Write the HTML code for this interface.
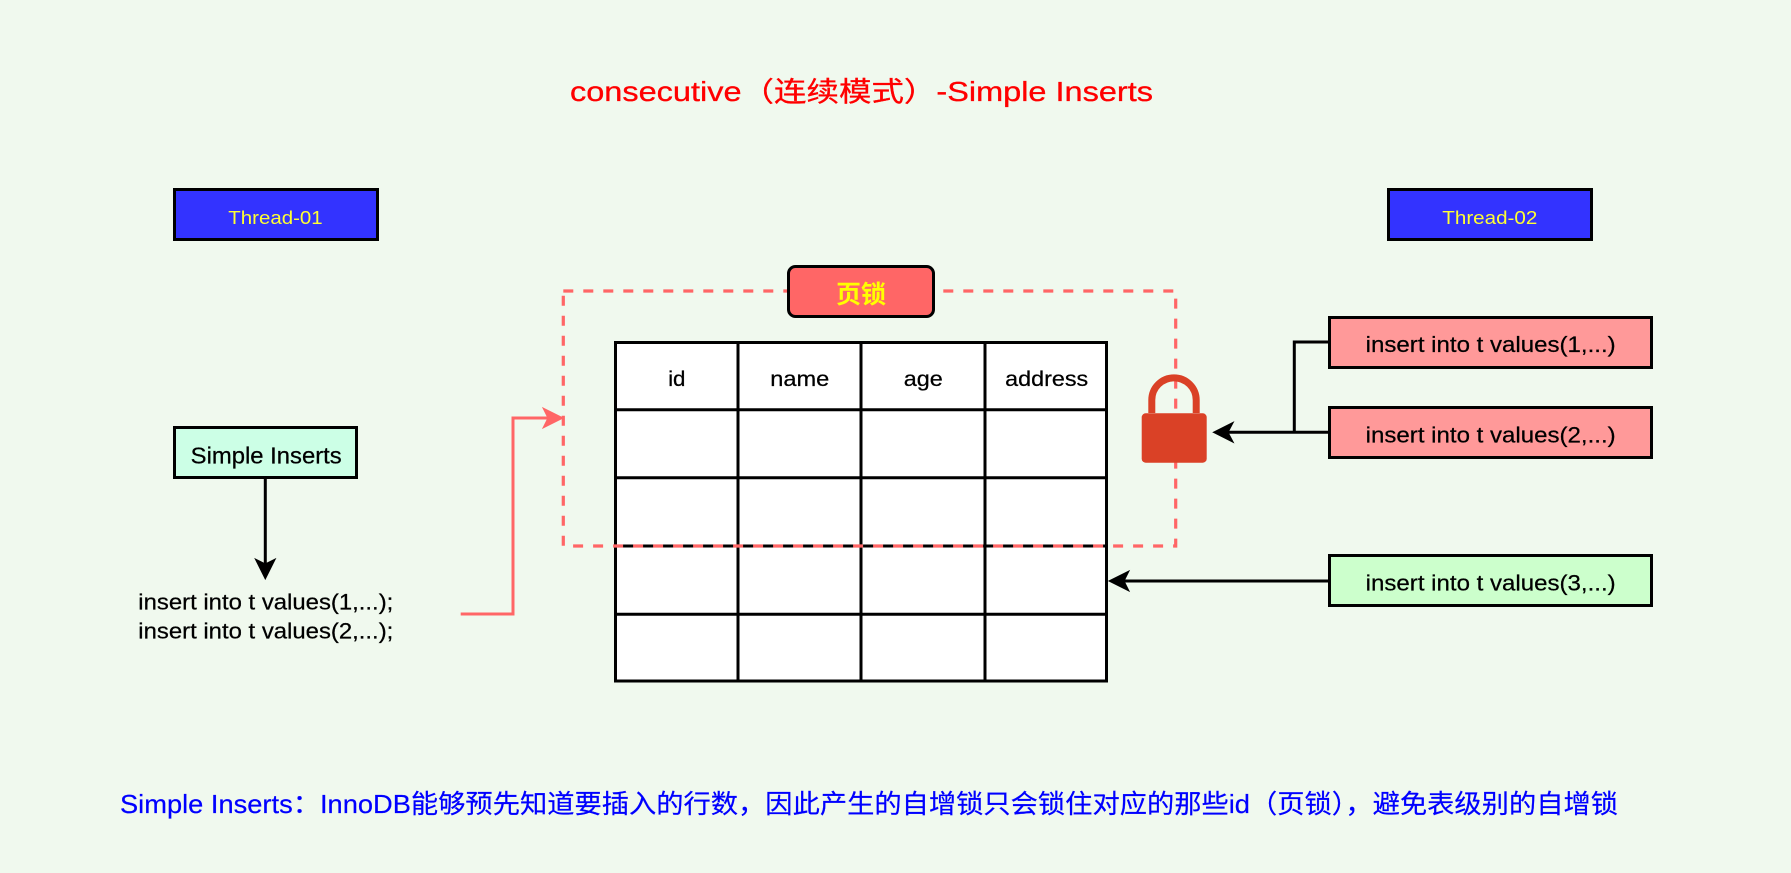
<!DOCTYPE html>
<html>
<head>
<meta charset="utf-8">
<style>
  html, body { margin: 0; padding: 0; background: #F0F9EE; }
  svg { display: block; }
  text { font-family: "Liberation Sans", "Noto Sans CJK SC", sans-serif; }
</style>
</head>
<body>
<svg width="1791" height="873" viewBox="0 0 1791 873" xmlns="http://www.w3.org/2000/svg">
  <rect x="0" y="0" width="1791" height="873" fill="#F0F9EE"/>

  <!-- Title -->
  <text x="570" y="101" font-size="27.5" fill="#FF0000" stroke="#FF0000" stroke-width="0.3" textLength="583" lengthAdjust="spacingAndGlyphs">consecutive（连续模式）-Simple Inserts</text>

  <!-- Thread boxes -->
  <rect x="174.5" y="189.5" width="203" height="50" fill="#3333FF" stroke="#000" stroke-width="3"/>
  <text x="228.3" y="224" font-size="18" fill="#FFFF33" textLength="94.4" lengthAdjust="spacingAndGlyphs">Thread-01</text>
  <rect x="1388.5" y="189.5" width="203" height="50" fill="#3333FF" stroke="#000" stroke-width="3"/>
  <text x="1442.3" y="224" font-size="18" fill="#FFFF33" textLength="95" lengthAdjust="spacingAndGlyphs">Thread-02</text>

  <!-- Simple Inserts box -->
  <rect x="174.5" y="427.5" width="182" height="50" fill="#CCFFE6" stroke="#000" stroke-width="3"/>
  <text x="190.7" y="463.3" font-size="23" fill="#000" stroke="#000" stroke-width="0.25" textLength="151" lengthAdjust="spacingAndGlyphs">Simple Inserts</text>

  <!-- arrow down from Simple Inserts -->
  <line x1="265.3" y1="479" x2="265.3" y2="566" stroke="#000" stroke-width="3"/>
  <path d="M265.3,579 L255.3,559 L265.3,564 L275.3,559 Z" fill="#000" stroke="#000" stroke-width="1"/>

  <!-- left texts -->
  <text x="138.3" y="609.3" font-size="22" fill="#000" stroke="#000" stroke-width="0.25" textLength="255" lengthAdjust="spacingAndGlyphs">insert into t values(1,...);</text>
  <text x="138.3" y="638.3" font-size="22" fill="#000" stroke="#000" stroke-width="0.25" textLength="255" lengthAdjust="spacingAndGlyphs">insert into t values(2,...);</text>

  <!-- red connector -->
  <polyline points="460.7,614 513,614 513,418 549,418" fill="none" stroke="#FF6666" stroke-width="3"/>
  <path d="M563,418 L543,408 L548,418 L543,428 Z" fill="#FF6666" stroke="#FF6666" stroke-width="1"/>

  <!-- Table -->
  <rect x="615.5" y="342.5" width="491" height="338.5" fill="#FFFFFF" stroke="#000" stroke-width="3"/>
  <g stroke="#000" stroke-width="3">
    <line x1="738" y1="342.5" x2="738" y2="681"/>
    <line x1="861" y1="342.5" x2="861" y2="681"/>
    <line x1="985" y1="342.5" x2="985" y2="681"/>
    <line x1="615.5" y1="409.7" x2="1106.5" y2="409.7"/>
    <line x1="615.5" y1="477.7" x2="1106.5" y2="477.7"/>
    <line x1="615.5" y1="546" x2="1106.5" y2="546"/>
    <line x1="615.5" y1="614.3" x2="1106.5" y2="614.3"/>
  </g>
  <g font-size="21.5" fill="#000" stroke="#000" stroke-width="0.25" text-anchor="middle">
    <text x="676.8" y="386" textLength="17.4" lengthAdjust="spacingAndGlyphs">id</text>
    <text x="799.8" y="386" textLength="59" lengthAdjust="spacingAndGlyphs">name</text>
    <text x="923.3" y="386" textLength="39" lengthAdjust="spacingAndGlyphs">age</text>
    <text x="1046.7" y="386" textLength="83" lengthAdjust="spacingAndGlyphs">address</text>
  </g>

  <!-- Dashed red region -->
  <rect x="563.3" y="291" width="612.4" height="255" fill="none" stroke="#FF6666" stroke-width="3.2" stroke-dasharray="10 10"/>

  <!-- 页锁 label -->
  <rect x="788.5" y="266.5" width="145" height="50" rx="7" ry="7" fill="#FF6666" stroke="#000" stroke-width="3"/>
  <text x="861" y="303" font-size="25" font-weight="bold" fill="#FFFF00" text-anchor="middle">页锁</text>

  <!-- Lock icon -->
  <path d="M1151.8,413 L1151.8,400 A22.2,22.2 0 0 1 1196.2,400 L1196.2,413" fill="none" stroke="#DA4126" stroke-width="7"/>
  <rect x="1141.7" y="413.3" width="65" height="49.4" rx="4" ry="4" fill="#DA4126"/>

  <!-- Right insert boxes -->
  <rect x="1329.5" y="317.5" width="322" height="50" fill="#FF9999" stroke="#000" stroke-width="3"/>
  <text x="1365.7" y="352" font-size="22.5" fill="#000" stroke="#000" stroke-width="0.25" textLength="250" lengthAdjust="spacingAndGlyphs">insert into t values(1,...)</text>
  <rect x="1329.5" y="407.5" width="322" height="50" fill="#FF9999" stroke="#000" stroke-width="3"/>
  <text x="1365.7" y="442.5" font-size="22.5" fill="#000" stroke="#000" stroke-width="0.25" textLength="250" lengthAdjust="spacingAndGlyphs">insert into t values(2,...)</text>
  <rect x="1329.5" y="555.5" width="322" height="50" fill="#CCFFCC" stroke="#000" stroke-width="3"/>
  <text x="1365.7" y="590.7" font-size="22.5" fill="#000" stroke="#000" stroke-width="0.25" textLength="250" lengthAdjust="spacingAndGlyphs">insert into t values(3,...)</text>

  <!-- connectors right -->
  <polyline points="1328,342 1294.3,342 1294.3,432.3" fill="none" stroke="#000" stroke-width="3"/>
  <line x1="1328" y1="432.3" x2="1227" y2="432.3" stroke="#000" stroke-width="3"/>
  <path d="M1213.3,432.3 L1233.3,422.3 L1228,432.3 L1233.3,442.3 Z" fill="#000" stroke="#000" stroke-width="1"/>
  <line x1="1328" y1="581" x2="1123" y2="581" stroke="#000" stroke-width="3"/>
  <path d="M1109,581 L1129,571 L1124,581 L1129,591 Z" fill="#000" stroke="#000" stroke-width="1"/>

  <!-- Bottom note -->
  <text x="120" y="813" font-size="26" fill="#0000FF" stroke="#0000FF" stroke-width="0.2" textLength="1498" lengthAdjust="spacingAndGlyphs">Simple Inserts：InnoDB能够预先知道要插入的行数，因此产生的自增锁只会锁住对应的那些id（页锁），避免表级别的自增锁</text>
</svg>
</body>
</html>
